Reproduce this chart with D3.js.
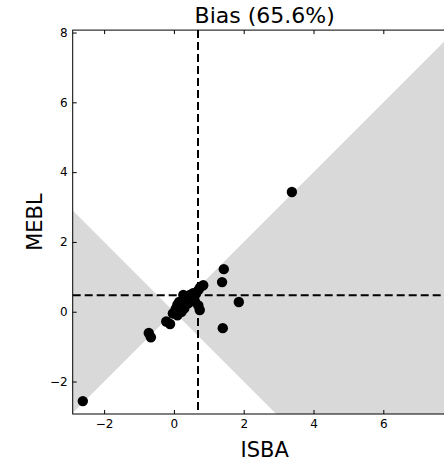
<!DOCTYPE html>
<html><head><meta charset="utf-8">
<script src="https://cdn.jsdelivr.net/npm/d3@7"></script>
<style>body{margin:0;background:#fff;} svg{display:block;} text{font-family:"DejaVu Sans",sans-serif;}</style>
</head><body>
<svg id="c" width="444" height="465"></svg>
<script>
const isba = [-2.61, 3.38, 1.43, 1.38, 1.86, 1.40, -0.72, -0.66, -0.22, -0.11, -0.03, 0.05, 0.10, 0.15, 0.22, 0.27, 0.35, 0.42, 0.46, 0.55, 0.50, 0.62, 0.70, 0.75, 0.84, 0.74, 0.70, 0.30, 0.10, 0.60, 0.20, 0.40];
const mebl = [-2.56, 3.43, 1.22, 0.85, 0.28, -0.47, -0.61, -0.73, -0.28, -0.35, -0.05, 0.08, 0.20, 0.28, 0.00, 0.48, 0.35, 0.25, 0.48, 0.53, 0.40, 0.50, 0.62, 0.70, 0.76, 0.05, 0.18, 0.10, -0.10, 0.30, 0.15, 0.45];
const xTicks = [-2, 0, 2, 4, 6];
const yTicks = [-2, 0, 2, 4, 6, 8];
const xRef = 0.69, yRef = 0.47;
const title = "Bias (65.6%)";
const xLabel = "ISBA", yLabel = "MEBL";

const svg = d3.select("#c");
const L = 72.7, R = 456.6, T = 30.1, B = 414;
const x = d3.scaleLinear().domain([-2.9, 8.1]).range([L, R]);
const y = d3.scaleLinear().domain([-2.93, 8.07]).range([B, T]);

svg.append("defs").append("clipPath").attr("id","clip")
  .append("rect").attr("x",L).attr("y",T).attr("width",R-L).attr("height",B-T);
const g = svg.append("g").attr("clip-path","url(#clip)");

const big = 20;
const wedges = [
  [[0,0],[big,big],[big,-big]],
  [[0,0],[-big,big],[-big,-big]]
];
g.selectAll("path.w").data(wedges).enter().append("path")
  .attr("d", d => "M" + d.map(p => x(p[0]) + "," + y(p[1])).join("L") + "Z")
  .attr("fill", "#d9d9d9");

g.append("line").attr("x1",x(xRef)).attr("x2",x(xRef)).attr("y1",T).attr("y2",B)
  .attr("stroke","#000").attr("stroke-width",2).attr("stroke-dasharray","8,4");
g.append("line").attr("x1",L).attr("x2",R).attr("y1",y(yRef)).attr("y2",y(yRef))
  .attr("stroke","#000").attr("stroke-width",2).attr("stroke-dasharray","8,4");

g.selectAll("circle").data(isba.map((v,i)=>[v,mebl[i]])).enter().append("circle")
  .attr("cx", d=>x(d[0])).attr("cy", d=>y(d[1])).attr("r",5.2).attr("fill","#000");

// axes (inward ticks)
const fmt = d => d < 0 ? "\u2212" + Math.abs(d) : String(d);
const axB = d3.axisBottom(x).tickValues(xTicks).tickSizeInner(-4).tickSizeOuter(0).tickPadding(5).tickFormat(fmt);
const axT = d3.axisTop(x).tickValues(xTicks).tickSizeInner(-4).tickSizeOuter(0).tickFormat("");
const axL = d3.axisLeft(y).tickValues(yTicks).tickSizeInner(-4).tickSizeOuter(0).tickPadding(5).tickFormat(fmt);
const axR = d3.axisRight(y).tickValues(yTicks).tickSizeInner(-4).tickSizeOuter(0).tickFormat("");
function style(sel){ sel.select(".domain").remove(); sel.selectAll("line").attr("stroke","#000"); sel.selectAll("text").attr("font-size",12).attr("fill","#000").attr("font-family","DejaVu Sans"); }
svg.append("g").attr("transform",`translate(0,${B})`).call(axB).call(style);
svg.append("g").attr("transform",`translate(0,${T})`).call(axT).call(style);
svg.append("g").attr("transform",`translate(${L},0)`).call(axL).call(style);
svg.append("g").attr("transform",`translate(${R},0)`).call(axR).call(style);

svg.append("rect").attr("x",L).attr("y",T).attr("width",R-L).attr("height",B-T)
  .attr("fill","none").attr("stroke","#000").attr("stroke-width",1);

svg.append("text").attr("x",(L+R)/2).attr("y",23).attr("text-anchor","middle")
  .attr("font-size",22).text(title);
svg.append("text").attr("x",(L+R)/2).attr("y",457).attr("text-anchor","middle")
  .attr("font-size",21).text(xLabel);
svg.append("text").attr("transform",`translate(42,${(T+B)/2}) rotate(-90)`).attr("text-anchor","middle")
  .attr("font-size",21).text(yLabel);
</script>
</body></html>
